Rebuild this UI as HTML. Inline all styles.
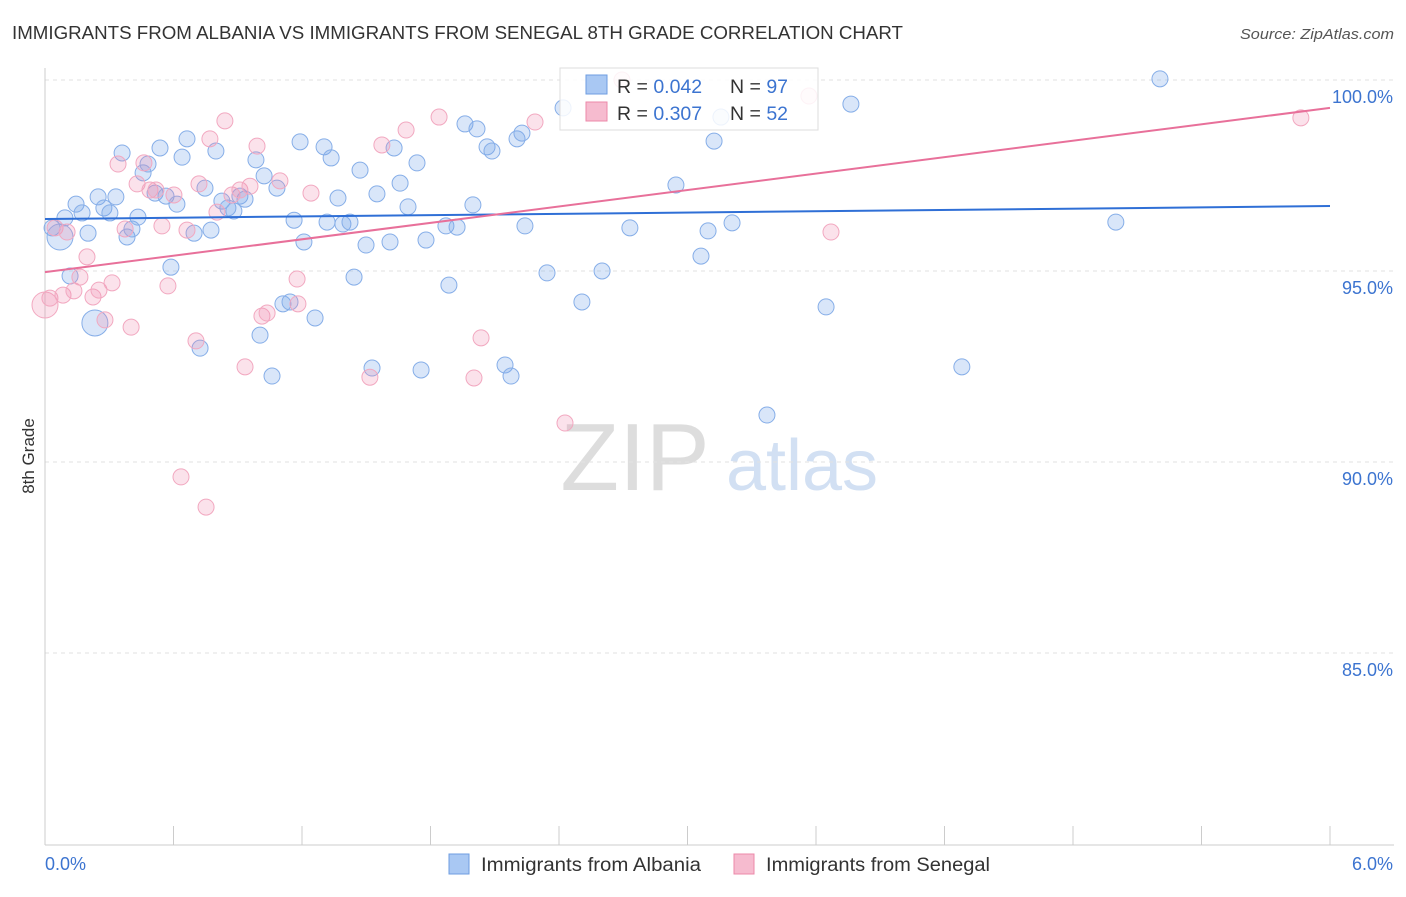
<!DOCTYPE html>
<html><head><meta charset="utf-8"><style>
body{margin:0;background:#fff;font-family:"Liberation Sans",sans-serif}
svg text{font-family:"Liberation Sans",sans-serif}
</style></head><body>
<svg id="chart" width="1406" height="892" xmlns="http://www.w3.org/2000/svg">
<text x="12" y="39" font-size="18" fill="#333" textLength="891" lengthAdjust="spacingAndGlyphs">IMMIGRANTS FROM ALBANIA VS IMMIGRANTS FROM SENEGAL 8TH GRADE CORRELATION CHART</text>
<text x="1240" y="39" font-size="15" fill="#555" font-style="italic" textLength="154" lengthAdjust="spacingAndGlyphs">Source: ZipAtlas.com</text>
<text transform="translate(34,456) rotate(-90)" font-size="17" fill="#333" text-anchor="middle">8th Grade</text>
<g>
<text x="635" y="490" font-size="96" fill="#ddd" text-anchor="middle" font-family="Liberation Serif">ZIP</text>
<text x="802" y="490" font-size="72" fill="#d2e0f3" text-anchor="middle">atlas</text>
</g>
<g id="grid"></g><g id="axes"></g><g id="pts"></g><g id="trends"></g>
<g>
<rect x="560" y="68" width="258" height="62" fill="#fff" fill-opacity="0.85" stroke="#ddd"/>
<rect x="586" y="75" width="21" height="19" fill="#a9c8f3" stroke="#6e9de0"/>
<rect x="586" y="102" width="21" height="19" fill="#f6bbcf" stroke="#ec88aa"/>
<text x="617" y="93" font-size="19.5" fill="#333">R = <tspan fill="#3c74d0">0.042</tspan><tspan x="730">N = </tspan><tspan fill="#3c74d0">97</tspan></text>
<text x="617" y="120" font-size="19.5" fill="#333">R = <tspan fill="#3c74d0">0.307</tspan><tspan x="730">N = </tspan><tspan fill="#3c74d0">52</tspan></text>
</g>
<g>
<rect x="449" y="854" width="20" height="20" fill="#a9c8f3" stroke="#6e9de0"/>
<text x="481" y="871" font-size="19" fill="#333" textLength="220" lengthAdjust="spacingAndGlyphs">Immigrants from Albania</text>
<rect x="734" y="854" width="20" height="20" fill="#f6bbcf" stroke="#ec88aa"/>
<text x="766" y="871" font-size="19" fill="#333" textLength="224" lengthAdjust="spacingAndGlyphs">Immigrants from Senegal</text>
</g>
</svg>
<script>
const yTicks=[100,95,90,85];
const yTickLabels=["100.0%","95.0%","90.0%","85.0%"];
const xTicks=[0,0.6,1.2,1.8,2.4,3,3.6,4.2,4.8,5.4,6];
const xEndLabels=["0.0%","6.0%"];
const albaniaX=[0.033,0.070,0.093,0.145,0.173,0.201,0.248,0.275,0.303,0.331,0.360,0.383,0.406,0.434,0.458,0.481,0.514,0.537,0.565,0.588,0.616,0.640,0.663,0.696,0.724,0.747,0.775,0.798,0.826,0.854,0.882,0.910,0.934,0.985,1.004,1.023,1.060,1.083,1.111,1.144,1.163,1.191,1.209,1.261,1.303,1.317,1.336,1.368,1.391,1.424,1.443,1.471,1.499,1.527,1.550,1.611,1.630,1.658,1.695,1.737,1.756,1.779,1.872,1.886,1.924,1.961,1.998,2.017,2.064,2.087,2.148,2.176,2.204,2.227,2.241,2.344,2.419,2.507,2.601,2.731,2.946,3.063,3.096,3.124,3.156,3.208,3.371,3.647,3.763,4.281,5.000,5.206,0.233,0.117];
const albaniaY=[96.13,95.89,96.39,96.75,96.52,95.99,96.94,96.65,96.52,96.94,98.09,95.89,96.10,96.41,97.57,97.80,97.04,98.22,96.96,95.10,96.75,97.98,98.46,95.99,92.98,97.17,96.07,98.14,96.83,96.65,96.57,96.96,96.88,97.91,93.32,97.49,92.25,97.17,94.14,94.19,96.33,98.38,95.76,93.77,98.25,96.28,97.96,96.91,96.23,96.28,94.84,97.64,95.68,92.46,97.02,95.76,98.22,97.30,96.68,97.83,92.41,95.81,96.18,94.63,96.15,98.85,96.73,98.72,98.25,98.14,92.54,92.25,98.46,98.61,96.18,94.95,99.27,94.19,95.00,96.13,97.25,95.39,96.05,98.40,99.03,96.26,91.23,94.06,99.37,92.49,96.28,100.03,93.64,94.87];
const senegalX=[0,0.023,0.047,0.084,0.103,0.135,0.163,0.196,0.224,0.252,0.280,0.313,0.341,0.374,0.402,0.430,0.462,0.490,0.518,0.546,0.574,0.602,0.635,0.663,0.705,0.719,0.752,0.770,0.803,0.840,0.873,0.910,0.934,0.957,0.990,1.013,1.037,1.097,1.177,1.181,1.242,1.517,1.573,1.686,1.840,2.003,2.036,2.288,2.428,2.694,3.567,3.670,5.864];
const senegalY=[94.11,94.29,96.13,94.37,96.02,94.48,94.84,95.37,94.32,94.50,93.72,94.69,97.80,96.10,93.53,97.28,97.83,97.12,97.12,96.18,94.61,96.99,89.61,96.07,93.17,97.28,88.82,98.46,96.54,98.93,96.99,97.12,92.49,97.22,98.27,93.82,93.90,97.36,94.79,94.14,97.04,92.22,98.30,98.69,99.03,92.20,93.25,98.90,91.02,100.0,99.58,96.02,99.01];
const albaniaTrend=[96.36,96.70];
const senegalTrend=[94.97,99.27];
const NS="http://www.w3.org/2000/svg";
const sx=v=>45+v/6*1285;
const sy=v=>80+(100-v)*38.2;
function mk(tag,attrs,parent){const e=document.createElementNS(NS,tag);for(const k in attrs)e.setAttribute(k,attrs[k]);document.getElementById(parent).appendChild(e);return e;}
yTicks.forEach((t,i)=>{
 const g=mk('line',{x1:45,x2:1394,y1:sy(t),y2:sy(t),stroke:'#e2e2e2','stroke-dasharray':'4,4'},'grid');
 
 
 const l=mk('text',{x:1393,y:sy(t)+23,'font-size':18,fill:'#3c74d0','text-anchor':'end'},'axes');
 l.textContent=yTickLabels[i];
 
 
});
const ax=mk('line',{x1:45,x2:45,y1:68,y2:845,stroke:'#ccc'},'axes');


const bx=mk('line',{x1:45,x2:1394,y1:845,y2:845,stroke:'#ccc'},'axes');


xTicks.forEach(t=>{
 const k=mk('line',{x1:sx(t),x2:sx(t),y1:826,y2:845,stroke:'#ccc'},'axes');
 
 
});
const xl0=mk('text',{x:45,y:870,'font-size':18,fill:'#3c74d0'},'axes');xl0.textContent=xEndLabels[0];


const xl1=mk('text',{x:1393,y:870,'font-size':18,fill:'#3c74d0','text-anchor':'end'},'axes');xl1.textContent=xEndLabels[1];


function pts(X,Y,fill,stroke,name,bigIdx){
 X.forEach((x,i)=>{
  const r=bigIdx.includes(i)?13:8;
  const c=mk('circle',{cx:sx(x),cy:sy(Y[i]),r:r,fill:fill,stroke:stroke,'stroke-width':1},'pts');
  
  
 });
}
pts(albaniaX,albaniaY,'rgba(120,165,235,0.28)','#86aee8','albania-point',[1,92]);
pts(senegalX,senegalY,'rgba(240,140,175,0.25)','#f2a8c0','senegal-point',[0]);
const t1=mk('line',{x1:sx(0),y1:sy(albaniaTrend[0]),x2:sx(6),y2:sy(albaniaTrend[1]),stroke:'#2f6fd6','stroke-width':2},'trends');


const t2=mk('line',{x1:sx(0),y1:sy(senegalTrend[0]),x2:sx(6),y2:sy(senegalTrend[1]),stroke:'#e8709a','stroke-width':2},'trends');


</script>
</body></html>
